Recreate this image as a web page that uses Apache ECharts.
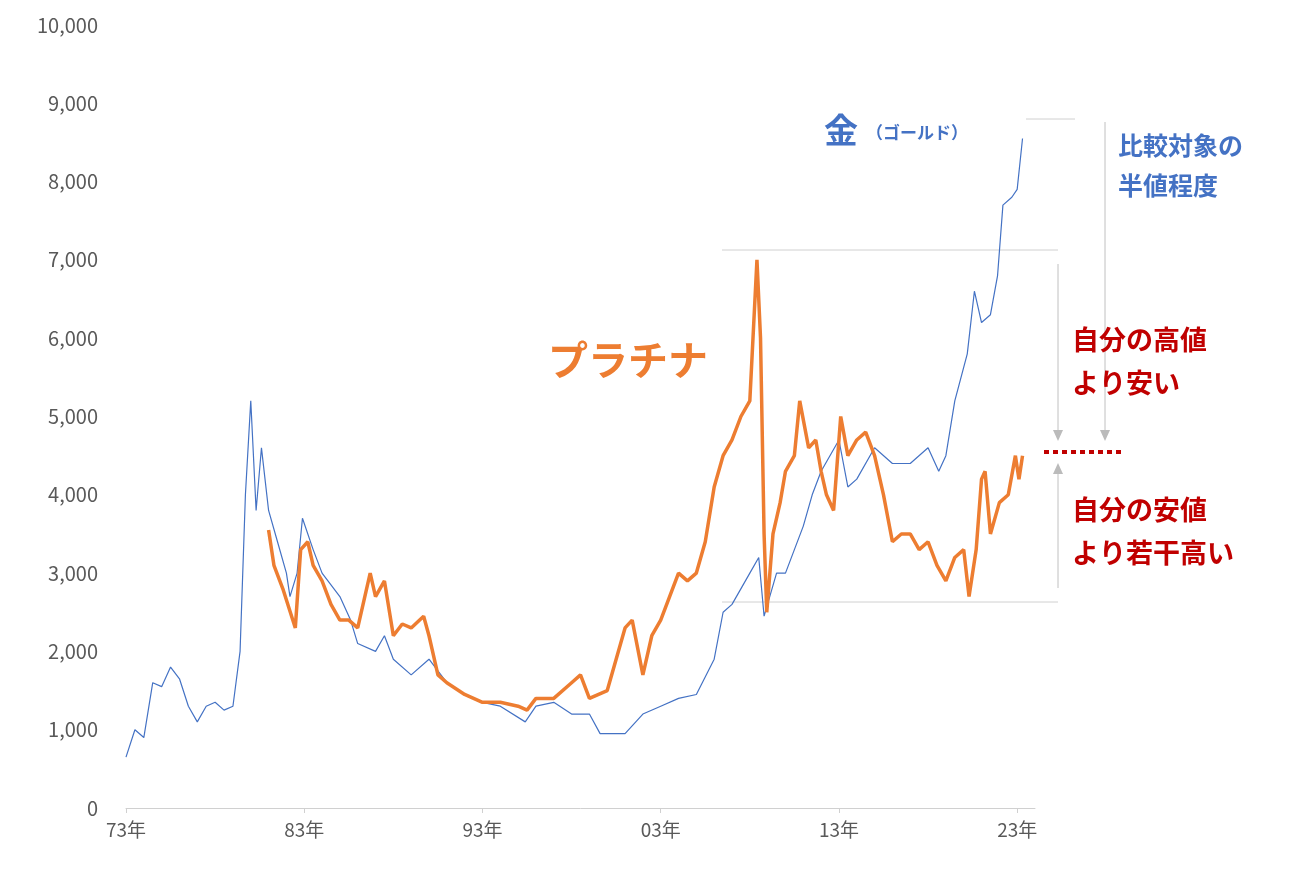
<!DOCTYPE html>
<html><head><meta charset="utf-8">
<script src="https://cdn.jsdelivr.net/npm/echarts@6/dist/echarts.min.js"></script>
<style>html,body{margin:0;background:#fff}#c{width:1300px;height:878px}</style>
</head><body><div id="c"></div>
<script>
const goldYears=[1973,1973.5,1974,1974.5,1975,1975.5,1976,1976.5,1977,1977.5,1978,1978.5,1979,1979.4,1979.7,1980,1980.3,1980.6,1981,1981.5,1982,1982.2,1982.6,1982.9,1983.5,1984,1985,1985.6,1986,1987,1987.5,1988,1989,1990,1991,1992,1993,1994,1995.4,1996,1997,1998,1999,1999.6,2001,2002,2003,2004,2005,2006,2006.5,2007,2008,2008.5,2008.8,2009.5,2010,2010.5,2011,2011.5,2012,2013,2013.5,2014,2015,2016,2017,2018,2018.6,2019.0,2019.5,2020.2,2020.6,2021.0,2021.5,2021.9,2022.2,2022.7,2023.0,2023.3];
const goldValues=[650,1000,900,1600,1550,1800,1650,1300,1100,1300,1350,1250,1300,2000,4000,5200,3800,4600,3800,3400,3000,2700,3000,3700,3300,3000,2700,2400,2100,2000,2200,1900,1700,1900,1600,1450,1350,1300,1100,1300,1350,1200,1200,950,950,1200,1300,1400,1450,1900,2500,2600,3000,3200,2450,3000,3000,3300,3600,4000,4300,4700,4100,4200,4600,4400,4400,4600,4300,4500,5200,5800,6600,6200,6300,6800,7700,7800,7900,8550];
const platYears=[1981,1981.3,1981.8,1982.5,1982.8,1983.2,1983.5,1984,1984.5,1985,1985.5,1986,1986.7,1987,1987.5,1988,1988.5,1989,1989.7,1990,1990.5,1991,1992,1993,1994,1995,1995.5,1996,1997,1998,1998.5,1999,2000,2000.5,2001,2001.4,2002,2002.5,2003,2003.5,2004,2004.5,2005,2005.5,2006,2006.5,2007,2007.5,2008,2008.4,2008.6,2008.8,2008.95,2009.3,2009.7,2010,2010.5,2010.8,2011.3,2011.7,2012,2012.3,2012.7,2013.1,2013.5,2014,2014.5,2015,2015.5,2016,2016.5,2017,2017.5,2018,2018.5,2019,2019.5,2020.0,2020.3,2020.7,2021.0,2021.2,2021.5,2022,2022.5,2022.9,2023.1,2023.3];
const platValues=[3550,3100,2800,2300,3300,3400,3100,2900,2600,2400,2400,2300,3000,2700,2900,2200,2350,2300,2450,2200,1700,1600,1450,1350,1350,1300,1250,1400,1400,1600,1700,1400,1500,1900,2300,2400,1700,2200,2400,2700,3000,2900,3000,3400,4100,4500,4700,5000,5200,7000,6000,3500,2500,3500,3900,4300,4500,5200,4600,4700,4300,4000,3800,5000,4500,4700,4800,4500,4000,3400,3500,3500,3300,3400,3100,2900,3200,3300,2700,3300,4200,4300,3500,3900,4000,4500,4200,4500];
const yTicks=[0,1000,2000,3000,4000,5000,6000,7000,8000,9000,10000];
const xTickLabels=['73年','83年','93年','03年','13年','23年'];
const base=1973;
const gold=goldYears.map((y,i)=>[y-base,goldValues[i]]);
const plat=platYears.map((y,i)=>[y-base,platValues[i]]);
const chart=echarts.init(document.getElementById('c'));
const F='"Noto Sans CJK JP","Noto Sans",sans-serif';
chart.setOption({
 animation:false,
 grid:{left:126,right:265,top:25,bottom:70},
 xAxis:{type:'value',min:0,max:51,interval:10,
  axisLine:{lineStyle:{color:'#d0d0d0'}},axisTick:{show:true,lineStyle:{color:'#d0d0d0'}},splitLine:{show:false},
  axisLabel:{color:'#595959',fontSize:19,fontFamily:F,margin:12,showMaxLabel:false,formatter:v=>xTickLabels[Math.round(v/10)]||''}},
 yAxis:{type:'value',min:0,max:10000,interval:1000,
  axisLine:{show:false},axisTick:{show:false},splitLine:{show:false},
  axisLabel:{color:'#595959',fontSize:20,fontFamily:F,margin:28,formatter:v=>v.toLocaleString('en-US')}},
 series:[
  {type:'line',data:gold,symbol:'none',lineStyle:{color:'#4472C4',width:1.2},z:2},
  {type:'line',data:plat,symbol:'none',lineStyle:{color:'#ED7D31',width:3.5},z:3}
 ],
 graphic:[
  {type:'line',shape:{x1:1026,y1:119,x2:1075,y2:119},style:{stroke:'#d0d0d0',lineWidth:1}},
  {type:'line',shape:{x1:722,y1:250,x2:1058,y2:250},style:{stroke:'#d0d0d0',lineWidth:1}},
  {type:'line',shape:{x1:722,y1:602,x2:1058,y2:602},style:{stroke:'#d0d0d0',lineWidth:1}},
  {type:'line',shape:{x1:1105,y1:122,x2:1105,y2:436},style:{stroke:'#c0c0c0',lineWidth:1}},
  {type:'polygon',shape:{points:[[1100,430],[1110,430],[1105,441]]},style:{fill:'#bbbbbb'}},
  {type:'line',shape:{x1:1058,y1:264,x2:1058,y2:436},style:{stroke:'#c0c0c0',lineWidth:1}},
  {type:'polygon',shape:{points:[[1053,430],[1063,430],[1058,441]]},style:{fill:'#bbbbbb'}},
  {type:'line',shape:{x1:1058,y1:470,x2:1058,y2:588},style:{stroke:'#c0c0c0',lineWidth:1}},
  {type:'polygon',shape:{points:[[1053,474],[1063,474],[1058,463]]},style:{fill:'#bbbbbb'}},
  {type:'line',shape:{x1:1044,y1:452,x2:1122,y2:452},style:{stroke:'#C00000',lineWidth:4,lineDash:[5,4]}},
  {type:'text',left:824,top:113,style:{text:'金',fill:'#4472C4',font:'bold 34px '+F}},
  {type:'text',left:866,top:124,style:{text:'（ゴールド）',fill:'#4472C4',font:'bold 17px '+F}},
  {type:'text',left:1118,top:125,style:{text:'比較対象の\n半値程度',fill:'#4472C4',font:'bold 25px '+F,lineHeight:40}},
  {type:'text',left:548,top:340,style:{text:'プラチナ',fill:'#ED7D31',font:'bold 40px '+F}},
  {type:'text',left:1072,top:318,style:{text:'自分の高値\nより安い',fill:'#C00000',font:'bold 27px '+F,lineHeight:43}},
  {type:'text',left:1072,top:488,style:{text:'自分の安値\nより若干高い',fill:'#C00000',font:'bold 27px '+F,lineHeight:43}}
 ]
});
</script></body></html>
